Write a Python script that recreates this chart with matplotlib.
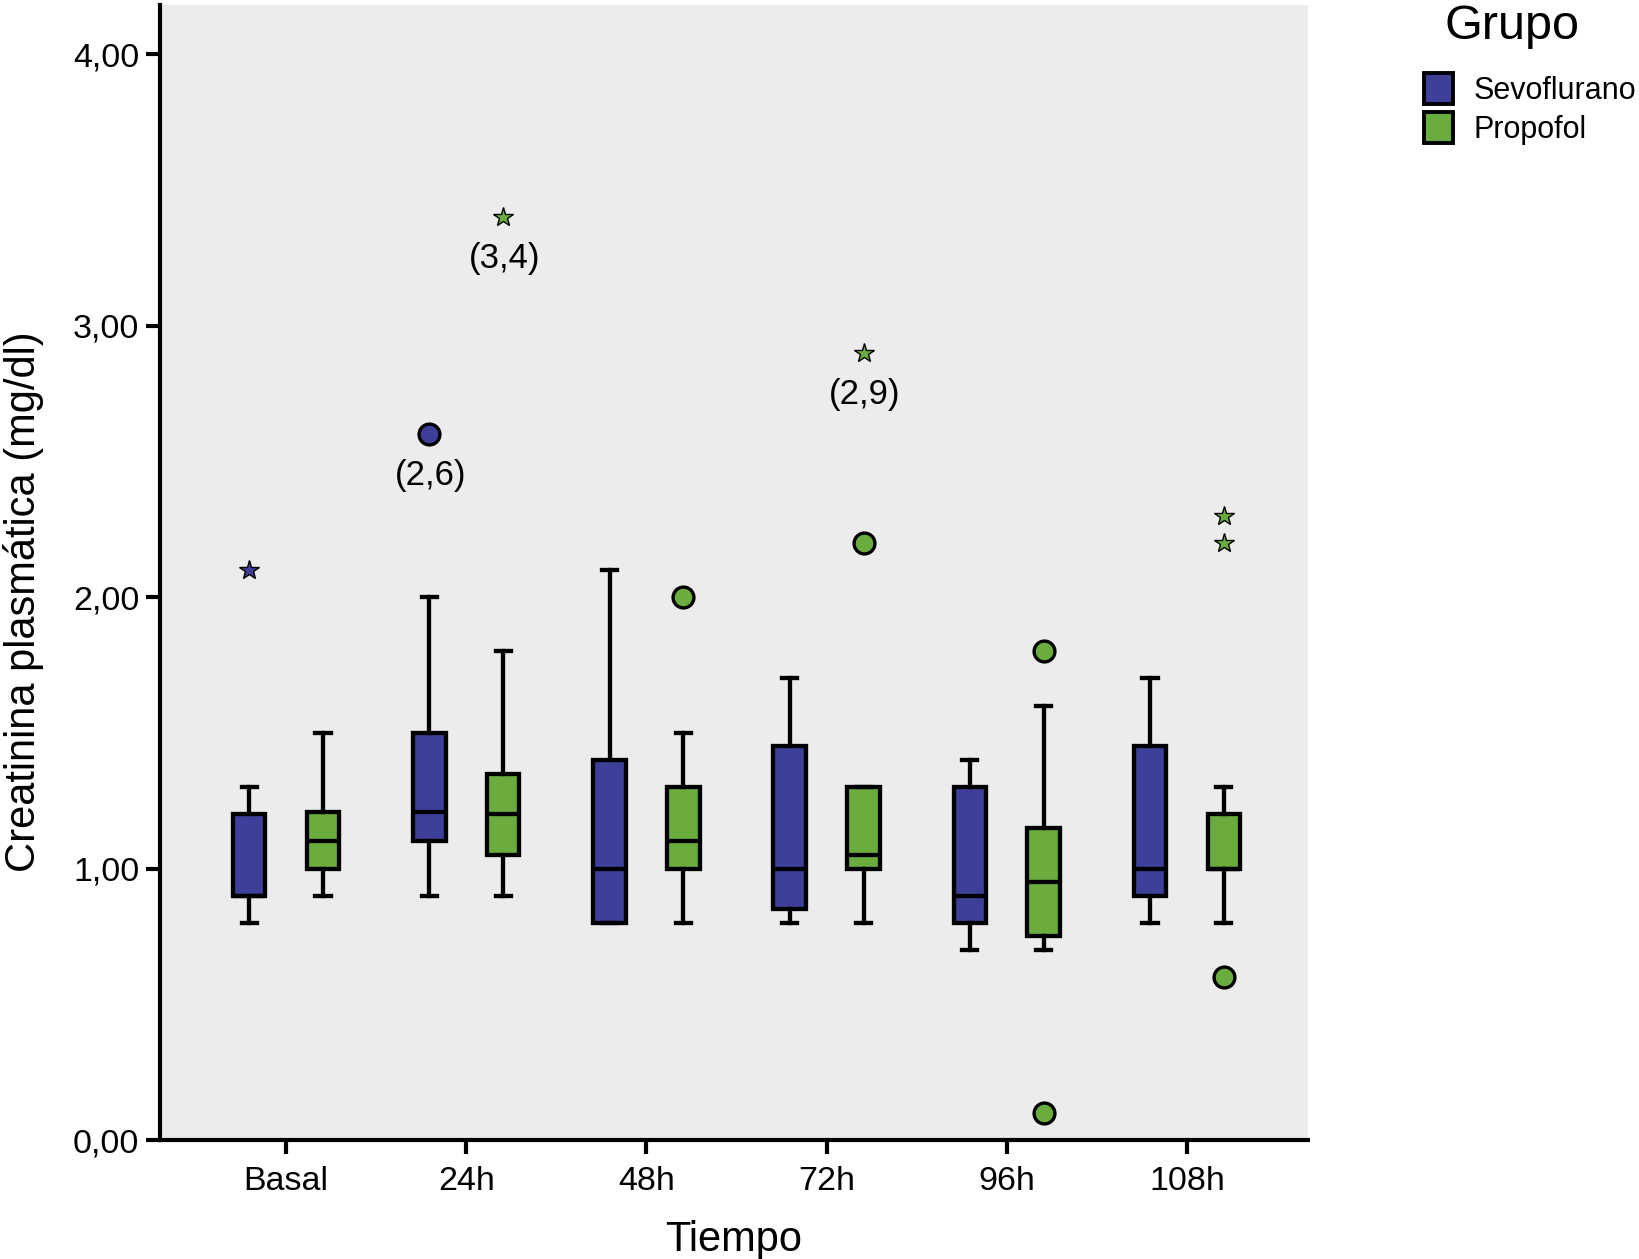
import numpy as np
import matplotlib.pyplot as plt
from matplotlib.patches import Patch

plt.rcParams['font.family'] = ['Liberation Sans', 'DejaVu Sans']

tiempos = ["Basal", "24h", "48h", "72h", "96h", "108h"]

# stats per time point: whisker low, q1, median, q3, whisker high
sevo_wlo = [0.80, 0.90, 0.80, 0.80, 0.70, 0.80]
sevo_q1 = [0.90, 1.10, 0.80, 0.85, 0.80, 0.90]
sevo_med = [0.90, 1.21, 1.00, 1.00, 0.90, 1.00]
sevo_q3 = [1.20, 1.50, 1.40, 1.45, 1.30, 1.45]
sevo_whi = [1.30, 2.00, 2.10, 1.70, 1.40, 1.70]

prop_wlo = [0.90, 0.90, 0.80, 0.80, 0.70, 0.80]
prop_q1 = [1.00, 1.05, 1.00, 1.00, 0.75, 1.00]
prop_med = [1.10, 1.20, 1.10, 1.05, 0.95, 1.00]
prop_q3 = [1.21, 1.35, 1.30, 1.30, 1.15, 1.20]
prop_whi = [1.50, 1.80, 1.50, 1.30, 1.60, 1.30]

# outliers (index of time point, value)
sevo_circ = [(1, 2.60)]
sevo_star = [(0, 2.10)]
prop_circ = [(2, 2.00), (3, 2.20), (4, 1.80), (4, 0.10), (5, 0.60)]
prop_star = [(1, 3.40), (3, 2.90), (5, 2.30), (5, 2.20)]

# labelled extremes
labels = [("sevo", 1, 2.60, "(2,6)"), ("prop", 1, 3.40, "(3,4)"), ("prop", 3, 2.90, "(2,9)")]

blue = "#3d3f98"
green = "#6aad3e"
off = 0.205

fig = plt.figure(figsize=(16.4, 12.59), dpi=100)
ax = fig.add_axes([0.0976, 0.0945, 0.6997, 0.9014])
ax.set_facecolor("#ececec")

x = np.arange(len(tiempos))

def stats(wlo, q1, med, q3, whi):
    out = []
    for i in range(len(wlo)):
        out.append({"whislo": wlo[i], "q1": q1[i], "med": med[i], "q3": q3[i], "whishi": whi[i], "fliers": []})
    return out

lw = 3.1
for st, pos, col in [(stats(sevo_wlo, sevo_q1, sevo_med, sevo_q3, sevo_whi), x - off, blue),
                     (stats(prop_wlo, prop_q1, prop_med, prop_q3, prop_whi), x + off, green)]:
    ax.bxp(st, positions=pos, widths=0.18, capwidths=0.085, showfliers=False, patch_artist=True,
           boxprops=dict(facecolor=col, edgecolor="black", linewidth=lw),
           medianprops=dict(color="black", linewidth=lw),
           whiskerprops=dict(color="black", linewidth=lw),
           capprops=dict(color="black", linewidth=lw))

for pts, sh, col, mk, ms in [(sevo_circ, -off, blue, "o", 15), (sevo_star, -off, blue, "*", 15),
                             (prop_circ, off, green, "o", 15), (prop_star, off, green, "*", 15)]:
    px = [p[0] + sh for p in pts]
    py = [p[1] for p in pts]
    ax.plot(px, py, linestyle="none", marker=mk, markersize=ms, markerfacecolor=col,
            markeredgecolor="black", markeredgewidth=2.4 if mk == "o" else 1.0, zorder=5)

for grp, i, v, txt in labels:
    sh = -off if grp == "sevo" else off
    ax.annotate(txt, (i + sh, v), xytext=(1, -30), textcoords="offset points",
                ha="center", va="center", fontsize=25)

ax.set_xlim(-0.70, 5.67)
ax.set_ylim(0, 4.18)
ax.set_xticks(x)
ax.set_xticklabels(tiempos, fontsize=24.5)
ax.set_yticks([0, 1, 2, 3, 4])
ax.set_yticklabels(["0,00", "1,00", "2,00", "3,00", "4,00"], fontsize=24.5)
ax.tick_params(axis="y", length=10, width=3.0, direction="out", pad=5)
ax.tick_params(axis="x", length=10, width=3.0, direction="out", pad=9)
ax.spines["top"].set_visible(False)
ax.spines["right"].set_visible(False)
ax.spines["left"].set_linewidth(3.0)
ax.spines["bottom"].set_linewidth(3.0)
ax.set_xlabel("Tiempo", fontsize=30, labelpad=16)
ax.set_ylabel("Creatinina plasmática (mg/dl)", fontsize=30, va="center")
ax.yaxis.set_label_coords(-0.119, 0.474)

fig.text(0.922, 0.979, "Grupo", fontsize=35, ha="center", va="center")
handles = [Patch(facecolor=blue, edgecolor="black", linewidth=2.8, label="Sevoflurano"),
           Patch(facecolor=green, edgecolor="black", linewidth=2.8, label="Propofol")]
fig.legend(handles=handles, loc="upper left", bbox_to_anchor=(0.868, 0.942), frameon=False,
           fontsize=22, handlelength=0.95, handleheight=1.2, handletextpad=0.7, labelspacing=0.2,
           borderaxespad=0, borderpad=0)

fig.savefig("out.png", dpi=100)
